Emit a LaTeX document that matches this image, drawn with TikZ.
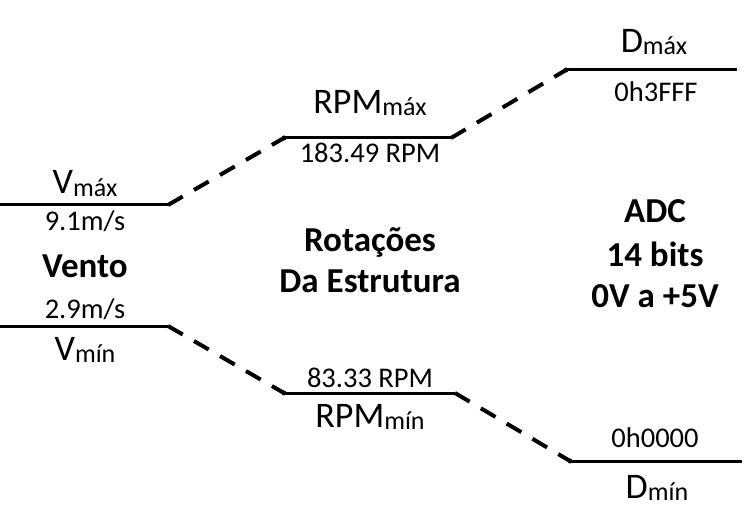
\documentclass[tikz,border=0pt]{standalone}
\usepackage{fontspec}
\setmainfont{Carlito}
\newcommand{\lbl}[2]{{\fontsize{36}{40}\selectfont #1}\raisebox{-2pt}{\fontsize{26}{30}\selectfont #2}}
\begin{document}
\begin{tikzpicture}[x=1pt,y=-1pt,
    nivel/.style={line width=3pt},
    salto/.style={line width=4pt,dash pattern=on 17pt off 13pt},
    valor/.style={anchor=base,inner sep=0pt,font=\fontsize{28.5}{32}\selectfont},
    nome/.style={anchor=base,inner sep=0pt},
    titulo/.style={anchor=base,inner sep=0pt,font=\fontsize{35}{38}\selectfont\bfseries}]
        \useasboundingbox (0,0) rectangle (748,532);
        % vento
        \coordinate (vmaxL) at (0,205);
        \coordinate (vmaxR) at (168,205);
        \coordinate (vminL) at (0,326);
        \coordinate (vminR) at (168,326);
        % rotacoes
        \coordinate (rmaxL) at (284,138);
        \coordinate (rmaxR) at (451,138);
        \coordinate (rminL) at (284,393);
        \coordinate (rminR) at (455,393);
        % adc
        \coordinate (dmaxL) at (566,70);
        \coordinate (dmaxR) at (737,70);
        \coordinate (dminL) at (570,461);
        \coordinate (dminR) at (742,461);
        \draw[nivel] (vmaxL) -- (vmaxR);
        \draw[nivel] (vminL) -- (vminR);
        \draw[nivel] (rmaxL) -- (rmaxR);
        \draw[nivel] (rminL) -- (rminR);
        \draw[nivel] (dmaxL) -- (dmaxR);
        \draw[nivel] (dminL) -- (dminR);
        \fill (rmaxL) circle (2.5);
        \fill (rminL) circle (2.5);
        \fill (dmaxL) circle (2.5);
        \fill (dminL) circle (2.5);
        \draw[salto] (vmaxR) -- (rmaxL);
        \draw[salto] (rmaxR) -- (dmaxL);
        \draw[salto] (vminR) -- (rminL);
        \draw[salto] (rminR) -- (dminL);
        % textos
        \node[nome] (vmax) at (85,194) {\lbl{V}{máx}};
        \node[valor] (vmaxv) at (85,231) {9.1m/s};
        \node[titulo] (vento) at (85,278) {Vento};
        \node[valor] (vminv) at (85,319) {2.9m/s};
        \node[nome] (vmin) at (85,360) {\lbl{V}{mín}};
        \node[nome] (rmax) at (370,114) {\lbl{RPM}{máx}};
        \node[valor] (rmaxv) at (370,163) {183.49 RPM};
        \node[titulo] (rot1) at (370,252) {Rotações};
        \node[titulo] (rot2) at (370,293) {Da Estrutura};
        \node[valor] (rminv) at (370,387) {83.33 RPM};
        \node[nome] (rmin) at (370,427) {\lbl{RPM}{mín}};
        \node[nome] (dmax) at (654,53) {\lbl{D}{máx}};
        \node[valor] (dmaxv) at (656,102) {0h3FFF};
        \node[titulo] (adc1) at (655,223) {ADC};
        \node[titulo] (adc2) at (655,267) {14 bits};
        \node[titulo] (adc3) at (655,308) {0V a +5V};
        \node[valor] (dminv) at (655,447) {0h0000};
        \node[nome] (dmin) at (657,498) {\lbl{D}{mín}};
    \end{tikzpicture}
\end{document}
